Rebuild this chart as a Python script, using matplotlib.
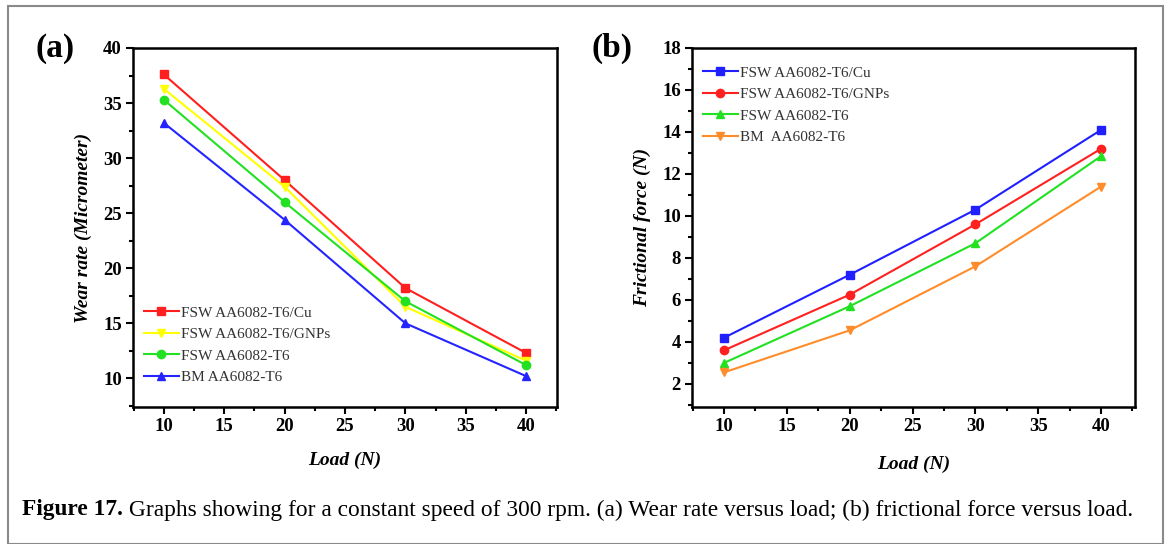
import matplotlib
matplotlib.use("Agg")
import matplotlib.pyplot as plt
from matplotlib.patches import Rectangle
from matplotlib.ticker import MultipleLocator

load = [10, 20, 30, 40]

series_a_labels = ["FSW AA6082-T6/Cu", "FSW AA6082-T6/GNPs", "FSW AA6082-T6", "BM AA6082-T6"]
wear_cu = [37.6, 28.0, 18.2, 12.3]
wear_gnps = [36.3, 27.4, 16.5, 11.6]
wear_t6 = [35.3, 26.0, 17.0, 11.2]
wear_bm = [33.2, 24.4, 15.0, 10.2]

series_b_labels = ["FSW AA6082-T6/Cu", "FSW AA6082-T6/GNPs", "FSW AA6082-T6", "BM  AA6082-T6"]
fric_cu = [4.2, 7.2, 10.3, 14.1]
fric_gnps = [3.6, 6.25, 9.6, 13.2]
fric_t6 = [3.0, 5.7, 8.7, 12.85]
fric_bm = [2.55, 4.55, 7.6, 11.4]

caption_bold = "Figure 17."
caption_rest = " Graphs showing for a constant speed of 300 rpm. (a) Wear rate versus load; (b) frictional force versus load."

W, H = 1170, 544
fig = plt.figure(figsize=(W / 100, H / 100), dpi=100)
fig.patch.set_facecolor("white")

# outer frame
fig.add_artist(Rectangle((8 / W, 0), (1163 - 8) / W, 1 - 6 / H, transform=fig.transFigure,
                         fill=False, edgecolor="#8a8a8a", linewidth=1.5))

serif = "Liberation Serif"
tick_fs = 13.5

def style_axes(ax):
    for s in ax.spines.values():
        s.set_linewidth(1.8)
        s.set_color("black")
    ax.tick_params(which="both", direction="out", top=False, right=False, width=1.5, colors="black")
    ax.tick_params(which="major", length=5, pad=3)
    ax.tick_params(which="minor", length=3)
    for lab in ax.get_xticklabels() + ax.get_yticklabels():
        lab.set_fontfamily(serif)
        lab.set_fontweight("bold")
        lab.set_fontsize(tick_fs)

ms = 6
lw = 1.5

# Panel (a)
axa = fig.add_axes([133 / W, 1 - 407 / H, (557 - 133) / W, (407 - 48) / H])
axa.plot(load, wear_cu, color="#ff1f1f", marker="s", ms=ms, lw=lw, label=series_a_labels[0])
axa.plot(load, wear_gnps, color="#ffff00", marker="v", ms=ms, lw=lw, label=series_a_labels[1])
axa.plot(load, wear_t6, color="#22e022", marker="o", ms=ms, lw=lw, label=series_a_labels[2])
axa.plot(load, wear_bm, color="#2424ff", marker="^", ms=ms, lw=lw, label=series_a_labels[3])
axa.set_xlim(7.45, 42.55)
axa.set_ylim(7.4, 40)
axa.xaxis.set_major_locator(MultipleLocator(5))
axa.xaxis.set_minor_locator(MultipleLocator(2.5))
axa.yaxis.set_major_locator(MultipleLocator(5))
axa.yaxis.set_minor_locator(MultipleLocator(2.5))
style_axes(axa)
axa.set_xlabel("Load (N)", fontfamily=serif, fontweight="bold", fontstyle="italic", fontsize=14, labelpad=12)
axa.set_ylabel("Wear rate (Micrometer)", fontfamily=serif, fontweight="bold", fontstyle="italic", fontsize=14, labelpad=8)
leg = axa.legend(loc="lower left", bbox_to_anchor=(0.0, 0.033), frameon=False,
                 prop={"family": serif, "size": 11}, handlelength=2.3, handletextpad=0.15,
                 labelspacing=0.52, borderaxespad=0.3)
for t in leg.get_texts():
    t.set_color("#333333")
fig.text(55 / W, 1 - 48 / H, "(a)", fontfamily=serif, fontweight="bold", fontsize=24,
         ha="center", va="center")

# Panel (b)
axb = fig.add_axes([692 / W, 1 - 407 / H, (1135 - 692) / W, (407 - 48) / H])
axb.plot(load, fric_cu, color="#2020ff", marker="s", ms=ms, lw=lw, label=series_b_labels[0])
axb.plot(load, fric_gnps, color="#ff2020", marker="o", ms=ms, lw=lw, label=series_b_labels[1])
axb.plot(load, fric_t6, color="#22e022", marker="^", ms=ms, lw=lw, label=series_b_labels[2])
axb.plot(load, fric_bm, color="#ff8c2a", marker="v", ms=ms, lw=lw, label=series_b_labels[3])
axb.set_xlim(7.45, 42.7)
axb.set_ylim(0.9, 18)
axb.xaxis.set_major_locator(MultipleLocator(5))
axb.xaxis.set_minor_locator(MultipleLocator(2.5))
axb.yaxis.set_major_locator(MultipleLocator(2))
axb.yaxis.set_minor_locator(MultipleLocator(1))
style_axes(axb)
axb.set_xlabel("Load (N)", fontfamily=serif, fontweight="bold", fontstyle="italic", fontsize=14, labelpad=15)
axb.set_ylabel("Frictional force (N)", fontfamily=serif, fontweight="bold", fontstyle="italic", fontsize=14, labelpad=8)
legb = axb.legend(loc="upper left", bbox_to_anchor=(0.0, 0.98), frameon=False,
                  prop={"family": serif, "size": 11}, handlelength=2.3, handletextpad=0.15,
                  labelspacing=0.52, borderaxespad=0.3)
for t in legb.get_texts():
    t.set_color("#333333")
fig.text(612 / W, 1 - 48 / H, "(b)", fontfamily=serif, fontweight="bold", fontsize=24,
         ha="center", va="center")

# Caption
cap_y = 1 - 510 / H
cap_fs = 16.8
t1 = fig.text(22 / W, cap_y, caption_bold, fontfamily=serif, fontweight="bold", fontsize=cap_fs,
              ha="left", va="center")
fig.canvas.draw()
bb = t1.get_window_extent()
fig.text(bb.x1 / W, cap_y, caption_rest, fontfamily=serif, fontsize=cap_fs, ha="left", va="center")

fig.savefig("out.png", dpi=100, facecolor="white")
